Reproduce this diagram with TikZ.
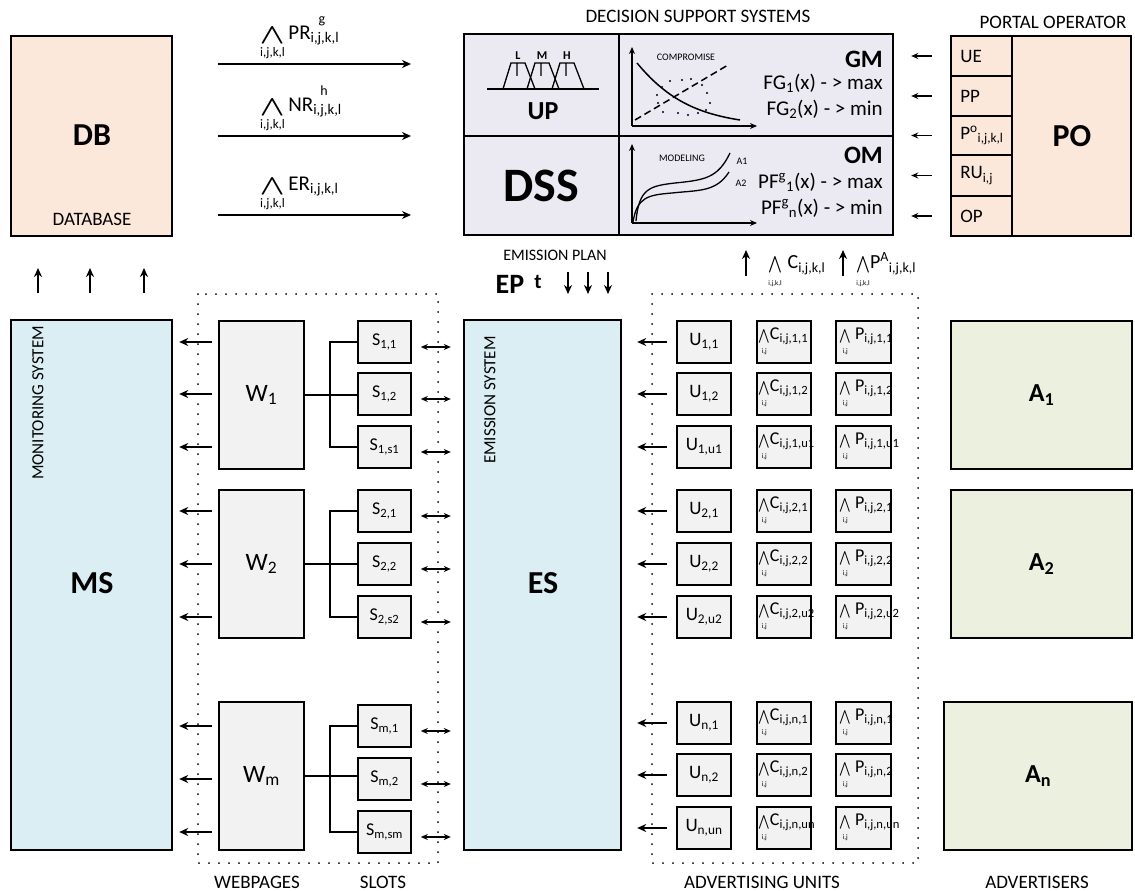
\documentclass[tikz,border=0pt]{standalone}
\usepackage{fontspec}
\setmainfont{Carlito}
\usepackage{exscale}
\usepackage{tikz}
\usetikzlibrary{arrows.meta, positioning, calc, fit}
\definecolor{mypeach}{RGB}{252,232,219}
\definecolor{myblue}{RGB}{219,238,244}
\definecolor{mygreen}{RGB}{235,241,222}
\definecolor{mylav}{RGB}{235,233,241}
\definecolor{mygray}{RGB}{242,242,242}
\newcommand{\fsz}[1]{\fontsize{#1}{#1}\selectfont}
\newcommand{\bigand}[1]{$\mathop{\scalebox{1.4}[0.85]{$\bigwedge$}}\limits_{\mbox{\fsz{13}#1}}$}
\newcommand{\smand}[1]{$\mathop{\scalebox{0.8}{$\bigwedge$}}\limits_{\mbox{\fsz{7}#1}}$}
\tikzset{
  box/.style={rectangle, draw=black, line width=1.6pt, inner sep=0pt},
  peachbox/.style={box, fill=mypeach},
  bluebox/.style={box, fill=myblue},
  greenbox/.style={box, fill=mygreen},
  lavbox/.style={box, fill=mylav},
  graybox/.style={box, fill=mygray},
  arrow/.style={-{Stealth[length=9pt, width=8pt]}, line width=1.5pt},
  smallarrow/.style={-{Stealth[length=7pt, width=6pt]}, line width=1.4pt},
  dblarrow/.style={{Stealth[length=7pt, width=6pt]}-{Stealth[length=7pt, width=6pt]}, line width=1.4pt},
  line/.style={line width=1.5pt},
  axis/.style={-{Stealth[length=7pt, width=6pt]}, line width=1.3pt},
  dotbox/.style={line width=2pt, dash pattern=on 0pt off 10pt, line cap=round},
  caption/.style={font=\fsz{19}, inner sep=0pt},
  bigbold/.style={font=\fsz{32}\bfseries, inner sep=0pt},
  midbold/.style={font=\fsz{26}\bfseries, inner sep=0pt},
  tinytext/.style={font=\fsz{10}, inner sep=0pt},
  celltext/.style={font=\fsz{19}, inner sep=0pt},
  slottext/.style={font=\fsz{18}, inner sep=0pt},
  wtext/.style={font=\fsz{25}, inner sep=0pt},
  unittext/.style={font=\fsz{18}, inner sep=0pt},
  goaltext/.style={font=\fsz{21}, inner sep=0pt, anchor=east},
  flowtext/.style={font=\fsz{21}, inner sep=0pt, anchor=south west}
}

\begin{document}
\begin{tikzpicture}[x=1pt, y=-1pt]
  \useasboundingbox (0,0) rectangle (1135,891);

  % Database
  \node[peachbox, fit={(11,36) (172,236)}] (db) {};
  \node[bigbold] (dblabel) at (92,135) {DB};
  \node[caption] (dbcap) at (92,219) {DATABASE};

  % Flows to the DSS
  \coordinate (pr_in) at (218,64);  \coordinate (pr_out) at (411,64);
  \coordinate (nr_in) at (218,136); \coordinate (nr_out) at (411,136);
  \coordinate (er_in) at (218,215); \coordinate (er_out) at (411,215);
  \draw[arrow] (pr_in) -- (pr_out);
  \draw[arrow] (nr_in) -- (nr_out);
  \draw[arrow] (er_in) -- (er_out);
  \node[flowtext] (prlabel) at ($(pr_in)+(42,-3)$) {\bigand{i,j,k,l}\,PR\textsubscript{i,j,k,l}\llap{\raisebox{0.75em}{\fsz{14}g}\hspace{14pt}}};
  \node[flowtext] (nrlabel) at ($(nr_in)+(42,-3)$) {\bigand{i,j,k,l}\,NR\textsubscript{i,j,k,l}\llap{\raisebox{0.75em}{\fsz{14}h}\hspace{14pt}}};
  \node[flowtext] (erlabel) at ($(er_in)+(42,-3)$) {\bigand{i,j,k,l}\,ER\textsubscript{i,j,k,l}};

  % Decision support systems
  \node[caption] (dsstitle) at (698,16) {DECISION SUPPORT SYSTEMS};
  \node[lavbox, fit={(464,34) (893,235)}] (dss) {};
  \draw[line] (619,34) -- (619,235);
  \draw[line] (464,136) -- (893,136);
  \node[font=\fsz{48}\bfseries, inner sep=0pt] (dsslabel) at (541,186) {DSS};

  % UP cell: fuzzy sets
  \draw[line, line width=1.3pt] (487,89) -- (599,89);
  \foreach \dx in {0,24,49}
    \draw[line, line width=1.3pt] ({503+\dx},89) -- ({511+\dx},63) -- ({525+\dx},63) -- ({535+\dx},89)
      ({517+\dx},63) -- ({517+\dx},76);
  \node[font=\fsz{12}\bfseries, inner sep=0pt] (fl) at (518,56) {L};
  \node[font=\fsz{12}\bfseries, inner sep=0pt] (fm) at (542,56) {M};
  \node[font=\fsz{12}\bfseries, inner sep=0pt] (fh) at (567,56) {H};
  \node[midbold] (uplabel) at (543,111) {UP};

  % GM cell
  \draw[axis] (632,126) -- (632,47);
  \draw[axis] (632,126) -- (757,126);
  \draw[line] (637,63) .. controls (666,98) and (695,113) .. (740,120);
  \draw[line, dash pattern=on 7pt off 4pt] (635,120) -- (728,65);
  \foreach \p in {(670,81),(682,80),(691,79),(662,87),(702,85),(657,95),(707,93),(658,103),(710,103),(663,112),(678,113),(688,115),(698,113),(706,110)}
    \fill \p circle (1.1);
  \node[tinytext] (comp) at (686,57) {COMPROMISE};
  \node[goaltext, font=\fsz{25}\bfseries] (gm) at (883,59) {GM};
  \node[goaltext] (fg1) at (883,83) {FG\textsubscript{1}(x) - > max};
  \node[goaltext] (fg2) at (883,109) {FG\textsubscript{2}(x) - > min};

  % OM cell
  \draw[axis] (632,223) -- (632,144);
  \draw[axis] (632,223) -- (757,223);
  \draw[line, line width=1.3pt] (636,221) .. controls (639,188) and (650,186) .. (675,183) .. controls (705,180) and (718,178) .. (730,153);
  \draw[line, line width=1.3pt] (633,222) .. controls (637,197) and (648,195) .. (672,193) .. controls (700,190) and (716,192) .. (729,172);
  \node[tinytext] (model) at (682,158) {MODELING};
  \node[tinytext] (a1lab) at (742,161) {A1};
  \node[tinytext] (a2lab) at (741,183) {A2};
  \node[goaltext, font=\fsz{25}\bfseries] (om) at (883,155) {OM};
  \node[goaltext] (pf1) at (883,182) {PF\textsuperscript{g}\textsubscript{1}(x) - > max};
  \node[goaltext] (pf2) at (883,208) {PF\textsuperscript{g}\textsubscript{n}(x) - > min};

  % Portal operator
  \node[caption] (potitle) at (1053,22) {PORTAL OPERATOR};
  \node[peachbox, fit={(1012,36) (1131,236)}] (po) {};
  \node[bigbold] (polabel) at (1072,136) {PO};
  \foreach \ya/\yb/\txt [count=\i] in {36/76/UE, 76/116/PP, 116/155/{P\textsuperscript{o}\textsubscript{i,j,k,l}}, 155/196/{RU\textsubscript{i,j}}, 196/236/OP} {
    \node[peachbox, fit={(951,\ya) (1012,\yb)}] (po\i) {};
    \node[celltext, anchor=west] (pot\i) at ($(po\i.west)+(10,0)$) {\txt};
    \draw[smallarrow] ($(po\i.west)+(-18,0)$) -- ++(-21,0);
  }

  % Middle row
  \foreach \x in {38,90,144}
    \draw[arrow] (\x,293) -- (\x,268);
  \node[font=\fsz{16}, inner sep=0pt] (eptitle) at (555,255) {EMISSION PLAN};
  \node[midbold, font=\fsz{28}\bfseries] (ep) at (510,284) {EP};
  \node[font=\fsz{21}\bfseries, inner sep=0pt] (ept) at (538,282) {t};
  \foreach \x in {568,588,608}
    \draw[arrow] (\x,272) -- (\x,294);
  \draw[arrow] (746,276) -- (746,250);
  \draw[arrow] (843,276) -- (843,250);
  \node[flowtext, font=\fsz{20}] (clabel) at (768,289) {\smand{i,j,k,l}\;C\textsubscript{i,j,k,l}};
  \node[flowtext, font=\fsz{20}] (plabel) at (856,289) {\smand{i,j,k,l}P\textsuperscript{A}\textsubscript{i,j,k,l}};

  % Dotted groups
  \draw[dotbox] (198,294) rectangle (438,863);
  \draw[dotbox] (652,294) rectangle (918,863);

  % Monitoring and emission systems
  \node[bluebox, fit={(11,320) (172,850)}] (ms) {};
  \node[font=\fsz{17}, rotate=90, inner sep=0pt] (mstitle) at (38,403) {MONITORING SYSTEM};
  \node[bigbold] (mslabel) at (92,583) {MS};
  \node[bluebox, fit={(464,320) (621,850)}] (es) {};
  \node[font=\fsz{17}, rotate=90, inner sep=0pt] (estitle) at (490,400) {EMISSION SYSTEM};
  \node[bigbold] (eslabel) at (543,583) {ES};

  % Webpages
  \node[graybox, fit={(219,321) (304,469)}] (w1) {};
  \node[graybox, fit={(219,490) (304,638)}] (w2) {};
  \node[graybox, fit={(219,702) (304,850)}] (w3) {};
  \node[wtext] (wt1) at (w1.center) {W\textsubscript{1}};
  \node[wtext] (wt2) at (w2.center) {W\textsubscript{2}};
  \node[wtext] (wt3) at (w3.center) {W\textsubscript{m}};

  % Slots
  \foreach \y/\txt/\w [count=\i] in {321/{1,1}/1, 373/{1,2}/1, 426/{1,s1}/1, 490/{2,1}/2, 543/{2,2}/2, 596/{2,s2}/2, 705/{m,1}/3, 758/{m,2}/3, 811/{m,sm}/3} {
    \node[graybox, fit={(358,\y) (411,{\y+42})}] (s\i) {};
    \node[slottext] (st\i) at (s\i.center) {S\textsubscript{\txt}};
    \draw[dblarrow] ($(s\i.east)+(9,5)$) -- ++(30,0);
    \draw[arrow] ($(w\w.west |- s\i.center)+(-6,0)$) -- ++(-33,0);
  }
  \foreach \w/\a/\b/\c in {1/1/2/3, 2/4/5/6, 3/7/8/9} {
    \draw[line] (w\w.east) -- (w\w.east -| s\b.west);
    \draw[line] (s\a.west) -- ++(-27,0) |- (s\c.west);
  }

  % Advertising units
  \foreach \y/\k/\l [count=\i] in {321/1/1, 373/1/2, 426/1/u1, 490/2/1, 543/2/2, 596/2/u2, 702/n/1, 754/n/2, 807/n/un} {
    \node[graybox, fit={(677,\y) (731,{\y+42})}] (u\i) {};
    \node[celltext] (ut\i) at (u\i.center) {U\textsubscript{\k,\l}};
    \node[graybox, fit={(757,\y) (811,{\y+42})}] (c\i) {};
    \node[unittext, anchor=west] (ct\i) at ($(c\i.west)+(2,0)$) {\smand{i,j}C\textsubscript{i,j,\k,\l}};
    \node[graybox, fit={(836,\y) (891,{\y+42})}] (p\i) {};
    \node[unittext, anchor=west] (pt\i) at ($(p\i.west)+(4,0)$) {\smand{i,j} P\textsubscript{i,j,\k,\l}};
    \draw[arrow] ($(u\i.west)+(-9,0)$) -- ++(-30,0);
  }

  % Advertisers
  \node[greenbox, fit={(951,321) (1132,469)}] (a1) {};
  \node[greenbox, fit={(951,490) (1132,638)}] (a2) {};
  \node[greenbox, fit={(944,702) (1132,850)}] (a3) {};
  \node[midbold] (at1) at (a1.center) {A\textsubscript{1}};
  \node[midbold] (at2) at (a2.center) {A\textsubscript{2}};
  \node[midbold] (at3) at (a3.center) {A\textsubscript{n}};

  % Bottom captions
  \node[caption] (webcap) at (257,882) {WEBPAGES};
  \node[caption] (slotcap) at (383,882) {SLOTS};
  \node[caption] (unitcap) at (762,882) {ADVERTISING UNITS};
  \node[caption] (advcap) at (1037,882) {ADVERTISERS};
\end{tikzpicture}
\end{document}
